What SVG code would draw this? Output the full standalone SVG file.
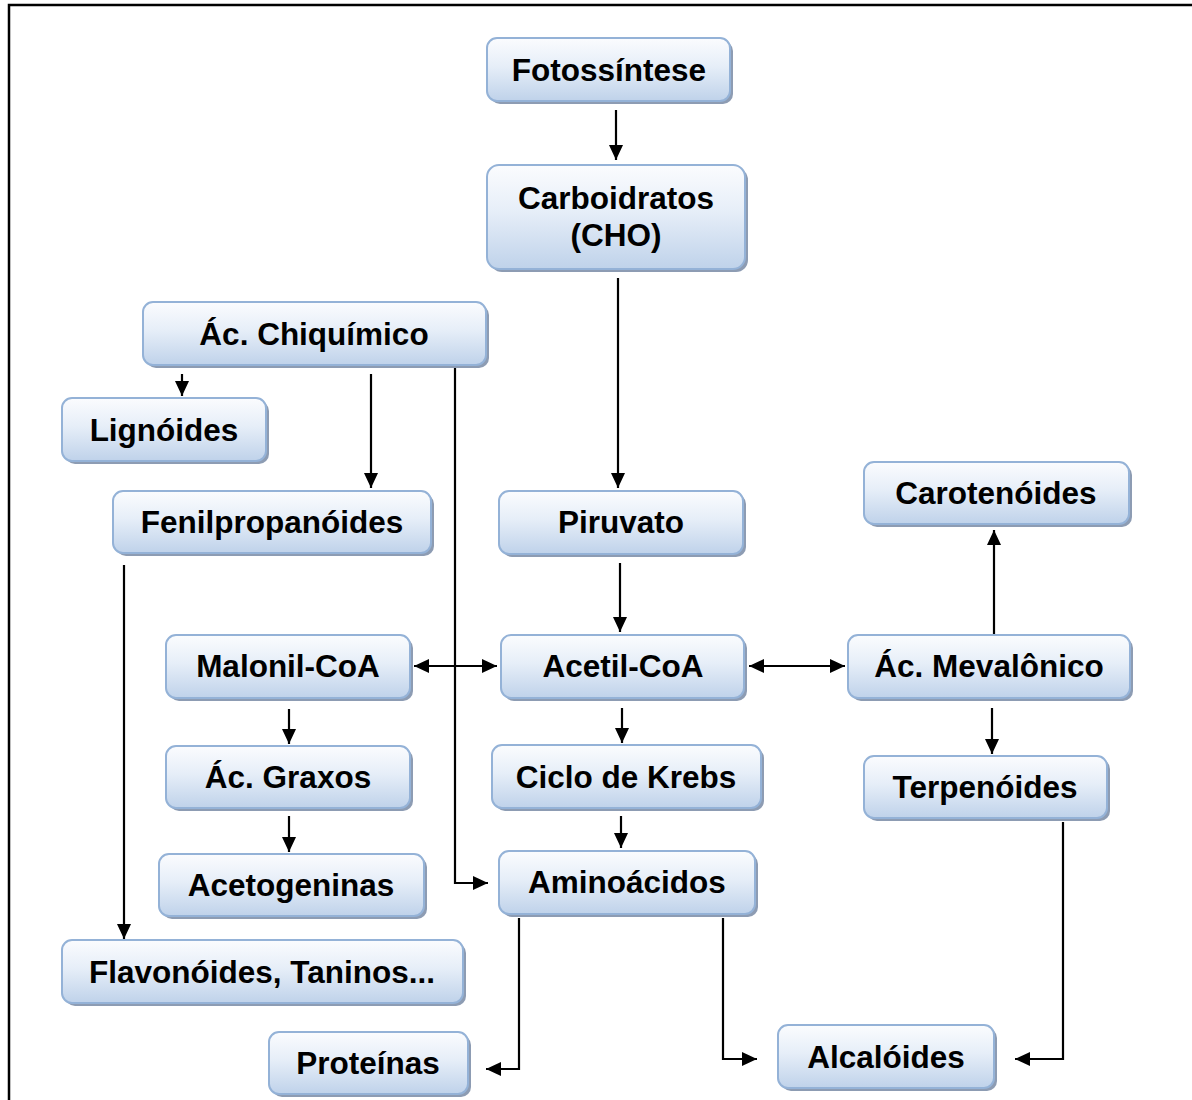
<svg xmlns="http://www.w3.org/2000/svg" width="1192" height="1100" viewBox="0 0 1192 1100">
<defs>
<linearGradient id="g" x1="0" y1="0" x2="0" y2="1">
<stop offset="0" stop-color="#fbfcfe"/>
<stop offset="0.45" stop-color="#e6eef8"/>
<stop offset="1" stop-color="#bfd2ea"/>
</linearGradient>
<marker id="ah" viewBox="0 0 15 14" refX="15" refY="7" markerWidth="15" markerHeight="14" markerUnits="userSpaceOnUse" orient="auto-start-reverse">
<path d="M0,0 L15,7 L0,14 z" fill="#000"/>
</marker>
<style>
.sh{fill:#8d9cb3;}
.bx{fill:url(#g);stroke:#94b2d7;stroke-width:2;}
.t{font-family:"Liberation Sans",Arial,sans-serif;font-weight:bold;font-size:31.5px;fill:#000;text-anchor:middle;}
.c{fill:none;stroke:#000;stroke-width:2.2;}
.a{marker-end:url(#ah);}
.b{marker-start:url(#ah);marker-end:url(#ah);}
</style>
</defs>
<rect x="0" y="0" width="1192" height="1100" fill="#fff"/>
<rect x="9" y="5" width="1200" height="1200" fill="none" stroke="#000" stroke-width="2.5"/>

<g id="connectors">
<path class="c a" d="M616,110 V160"/>
<path class="c a" d="M618,278 V488"/>
<path class="c a" d="M182,374 V396"/>
<path class="c a" d="M371,374 V488"/>
<path class="c a" d="M455,366 V883 H488"/>
<path class="c a" d="M124,565 V939"/>
<path class="c a" d="M620,563 V632"/>
<path class="c b" d="M414,666 H497"/>
<path class="c b" d="M749,666 H845"/>
<path class="c a" d="M994,634 V530"/>
<path class="c a" d="M992,708 V754"/>
<path class="c a" d="M289,709 V744"/>
<path class="c a" d="M289,816 V852"/>
<path class="c a" d="M622,708 V743"/>
<path class="c a" d="M621,816 V848"/>
<path class="c a" d="M519,918 V1069 H486"/>
<path class="c a" d="M723,918 V1059 H757"/>
<path class="c a" d="M1063,822 V1059 H1015"/>
</g>

<g id="n-fotossintese">
<rect class="sh" x="490" y="41" width="243" height="63" rx="10"/>
<rect class="bx" x="487" y="38" width="243" height="63" rx="10"/>
<text class="t" x="609" y="81">Fotossíntese</text>
</g>
<g id="n-carboidratos">
<rect class="sh" x="490" y="168" width="258" height="104" rx="12"/>
<rect class="bx" x="487" y="165" width="258" height="104" rx="12"/>
<text class="t" x="616" y="209">Carboidratos</text>
<text class="t" x="616" y="246">(CHO)</text>
</g>
<g id="n-chiquimico">
<rect class="sh" x="146" y="305" width="343" height="63" rx="10"/>
<rect class="bx" x="143" y="302" width="343" height="63" rx="10"/>
<text class="t" x="314" y="345">Ác. Chiquímico</text>
</g>
<g id="n-lignoides">
<rect class="sh" x="65" y="401" width="204" height="63" rx="10"/>
<rect class="bx" x="62" y="398" width="204" height="63" rx="10"/>
<text class="t" x="164" y="441">Lignóides</text>
</g>
<g id="n-fenilpropanoides">
<rect class="sh" x="116" y="494" width="318" height="62" rx="10"/>
<rect class="bx" x="113" y="491" width="318" height="62" rx="10"/>
<text class="t" x="272" y="533">Fenilpropanóides</text>
</g>
<g id="n-piruvato">
<rect class="sh" x="502" y="494" width="244" height="63" rx="10"/>
<rect class="bx" x="499" y="491" width="244" height="63" rx="10"/>
<text class="t" x="621" y="533">Piruvato</text>
</g>
<g id="n-carotenoides">
<rect class="sh" x="867" y="465" width="265" height="62" rx="10"/>
<rect class="bx" x="864" y="462" width="265" height="62" rx="10"/>
<text class="t" x="996" y="504">Carotenóides</text>
</g>
<g id="n-malonil">
<rect class="sh" x="169" y="638" width="244" height="63" rx="10"/>
<rect class="bx" x="166" y="635" width="244" height="63" rx="10"/>
<text class="t" x="288" y="677">Malonil-CoA</text>
</g>
<g id="n-acetil">
<rect class="sh" x="504" y="638" width="243" height="63" rx="10"/>
<rect class="bx" x="501" y="635" width="243" height="63" rx="10"/>
<text class="t" x="623" y="677">Acetil-CoA</text>
</g>
<g id="n-mevalonico">
<rect class="sh" x="851" y="638" width="282" height="63" rx="10"/>
<rect class="bx" x="848" y="635" width="282" height="63" rx="10"/>
<text class="t" x="989" y="677">Ác. Mevalônico</text>
</g>
<g id="n-graxos">
<rect class="sh" x="169" y="749" width="244" height="62" rx="10"/>
<rect class="bx" x="166" y="746" width="244" height="62" rx="10"/>
<text class="t" x="288" y="788">Ác. Graxos</text>
</g>
<g id="n-krebs">
<rect class="sh" x="495" y="748" width="269" height="63" rx="10"/>
<rect class="bx" x="492" y="745" width="269" height="63" rx="10"/>
<text class="t" x="626" y="788">Ciclo de Krebs</text>
</g>
<g id="n-terpenoides">
<rect class="sh" x="867" y="759" width="243" height="62" rx="10"/>
<rect class="bx" x="864" y="756" width="243" height="62" rx="10"/>
<text class="t" x="985" y="798">Terpenóides</text>
</g>
<g id="n-acetogeninas">
<rect class="sh" x="162" y="857" width="265" height="62" rx="10"/>
<rect class="bx" x="159" y="854" width="265" height="62" rx="10"/>
<text class="t" x="291" y="896">Acetogeninas</text>
</g>
<g id="n-aminoacidos">
<rect class="sh" x="502" y="854" width="256" height="63" rx="10"/>
<rect class="bx" x="499" y="851" width="256" height="63" rx="10"/>
<text class="t" x="627" y="893">Aminoácidos</text>
</g>
<g id="n-flavonoides">
<rect class="sh" x="65" y="943" width="401" height="63" rx="10"/>
<rect class="bx" x="62" y="940" width="401" height="63" rx="10"/>
<text class="t" x="262" y="983">Flavonóides, Taninos...</text>
</g>
<g id="n-proteinas">
<rect class="sh" x="272" y="1035" width="199" height="62" rx="10"/>
<rect class="bx" x="269" y="1032" width="199" height="62" rx="10"/>
<text class="t" x="368" y="1074">Proteínas</text>
</g>
<g id="n-alcaloides">
<rect class="sh" x="781" y="1028" width="216" height="63" rx="10"/>
<rect class="bx" x="778" y="1025" width="216" height="63" rx="10"/>
<text class="t" x="886" y="1068">Alcalóides</text>
</g>
</svg>
